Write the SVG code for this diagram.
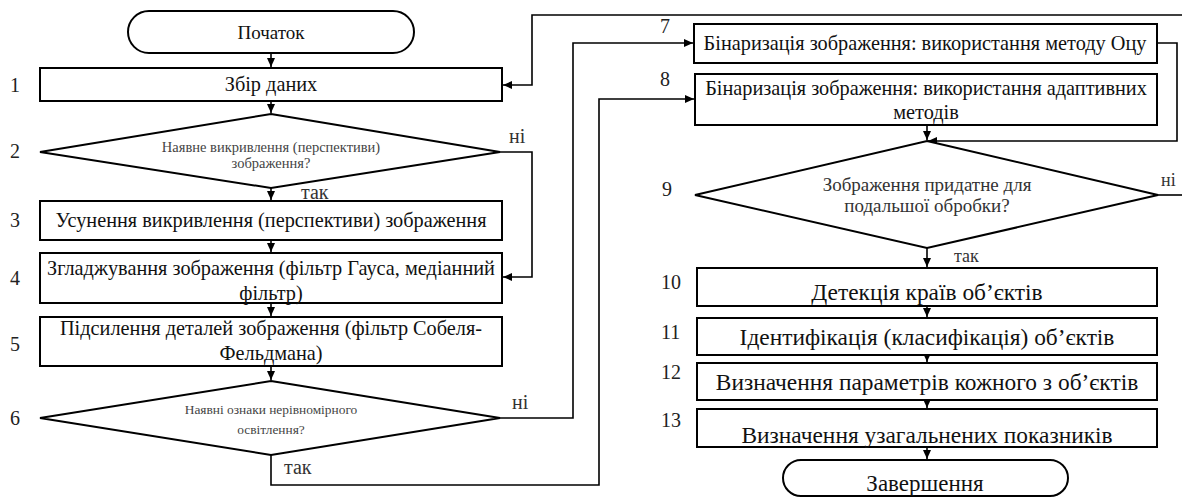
<svg xmlns="http://www.w3.org/2000/svg" width="1182" height="497" viewBox="0 0 1182 497" font-family="'Liberation Serif', 'Times New Roman', serif">
<defs>
<marker id="ah" markerWidth="10" markerHeight="10" refX="9" refY="5" orient="auto" markerUnits="userSpaceOnUse">
<path d="M0,1 L9,5 L0,9 Z" fill="#000"/>
</marker>
<style>
text{font-family:'Liberation Serif','Times New Roman',serif}
.b{fill:#fff;stroke:#000;stroke-width:2}
.c{fill:none;stroke:#000;stroke-width:1.6}
.t{fill:#111;text-anchor:middle}
.m{font-size:20.3px}
.r{font-size:23.4px}
.s2{font-size:14.5px;fill:#444}
.s6{font-size:13.4px;fill:#444}
.d{font-size:19px;fill:#333}
.n{font-size:20px;fill:#222}
.l{font-size:20px;fill:#333}
.lr{font-size:18px;fill:#333}
</style>
</defs>
<rect width="1182" height="497" fill="#fff"/>

<g id="connectors">
<path class="c" d="M271,53 V67" marker-end="url(#ah)"/>
<path class="c" d="M271,101 V113" marker-end="url(#ah)"/>
<path class="c" d="M271,188 V200" marker-end="url(#ah)"/>
<path class="c" d="M271,240 V252" marker-end="url(#ah)"/>
<path class="c" d="M271,303 V316" marker-end="url(#ah)"/>
<path class="c" d="M271,366 V380" marker-end="url(#ah)"/>
<path class="c" d="M500,152 H532 V277 H503" marker-end="url(#ah)"/>
<path class="c" d="M1182,15 H532 V85 H503" marker-end="url(#ah)"/>
<path class="c" d="M500,418 H573 V43 H693" marker-end="url(#ah)"/>
<path class="c" d="M271,455 V485 H599 V99 H694" marker-end="url(#ah)"/>
<path class="c" d="M927,125 V140" marker-end="url(#ah)"/>
<path class="c" d="M1157,43 H1177 V141 H928" marker-end="url(#ah)"/>
<path class="c" d="M1158,195 H1182"/>
<path class="c" d="M927,248 V267" marker-end="url(#ah)"/>
<path class="c" d="M927,306 V317" marker-end="url(#ah)"/>
<path class="c" d="M927,355 V362" marker-end="url(#ah)"/>
<path class="c" d="M927,400 V408" marker-end="url(#ah)"/>
<path class="c" d="M927,447 V459" marker-end="url(#ah)"/>
<text class="l" x="509" y="143">ні</text>
<text class="l" x="301" y="199">так</text>
<text class="l" x="512" y="409">ні</text>
<text class="l" x="284" y="474">так</text>
<text class="lr" x="1161" y="186">ні</text>
<text class="lr" x="954" y="262">так</text>
</g>

<g id="start">
<rect class="b" x="128" y="11" width="286" height="42" rx="21"/>
<text class="t" x="271" y="39" style="font-size:19px">Початок</text>
</g>

<g id="n1">
<rect class="b" x="40" y="68" width="462" height="33"/>
<text class="t m" x="271" y="91">Збір даних</text>
<text class="n" x="10" y="92">1</text>
</g>

<g id="n2">
<polygon class="b" points="271,114 500,152 271,188 40,152"/>
<text class="t s2" x="271" y="152">Наявне викривлення (перспективи)</text>
<text class="t s2" x="271" y="168">зображення?</text>
<text class="n" x="10" y="158">2</text>
</g>

<g id="n3">
<rect class="b" x="40" y="201" width="462" height="39"/>
<text class="t m" x="271" y="227">Усунення викривлення (перспективи) зображення</text>
<text class="n" x="10" y="227">3</text>
</g>

<g id="n4">
<rect class="b" x="40" y="253" width="462" height="50"/>
<text class="t m" x="271" y="275">Згладжування зображення (фільтр Гауса, медіанний</text>
<text class="t m" x="271" y="300">фільтр)</text>
<text class="n" x="10" y="285">4</text>
</g>

<g id="n5">
<rect class="b" x="40" y="317" width="462" height="49"/>
<text class="t m" x="271" y="335">Підсилення деталей зображення (фільтр Собеля-</text>
<text class="t m" x="271" y="360">Фельдмана)</text>
<text class="n" x="10" y="351">5</text>
</g>

<g id="n6">
<polygon class="b" points="271,381 500,418 271,455 40,418"/>
<text class="t s6" x="271" y="414">Наявні ознаки нерівномірного</text>
<text class="t s6" x="271" y="434">освітлення?</text>
<text class="n" x="10" y="425">6</text>
</g>

<g id="n7">
<rect class="b" x="694" y="24" width="463" height="39"/>
<text class="t m" x="925" y="50">Бінаризація зображення: використання методу Оцу</text>
<text class="n" x="660" y="33">7</text>
</g>

<g id="n8">
<rect class="b" x="695" y="74" width="462" height="51"/>
<text class="t m" x="926" y="95" fill="#333">Бінаризація зображення: використання адаптивних</text>
<text class="t m" x="926" y="119" fill="#333">методів</text>
<text class="n" x="660" y="86">8</text>
</g>

<g id="n9">
<polygon class="b" points="927,141 1158,195 927,248 695,195"/>
<text class="t d" x="927" y="191">Зображення придатне для</text>
<text class="t d" x="927" y="212">подальшої обробки?</text>
<text class="n" x="662" y="196">9</text>
</g>

<g id="n10">
<rect class="b" x="697" y="268" width="460" height="38"/>
<text class="t r" x="927" y="300">Детекція країв об’єктів</text>
<text class="n" x="661" y="289">10</text>
</g>

<g id="n11">
<rect class="b" x="697" y="318" width="460" height="37"/>
<text class="t r" x="927" y="345">Ідентифікація (класифікація) об’єктів</text>
<text class="n" x="661" y="339">11</text>
</g>

<g id="n12">
<rect class="b" x="697" y="363" width="460" height="37"/>
<text class="t r" x="927" y="390">Визначення параметрів кожного з об’єктів</text>
<text class="n" x="661" y="379">12</text>
</g>

<g id="n13">
<rect class="b" x="697" y="409" width="460" height="38"/>
<text class="t r" x="927" y="443">Визначення узагальнених показників</text>
<text class="n" x="661" y="427">13</text>
</g>

<g id="end">
<rect class="b" x="783" y="460" width="285" height="36" rx="18"/>
<text class="t" x="925" y="491" style="font-size:23px">Завершення</text>
</g>
</svg>
